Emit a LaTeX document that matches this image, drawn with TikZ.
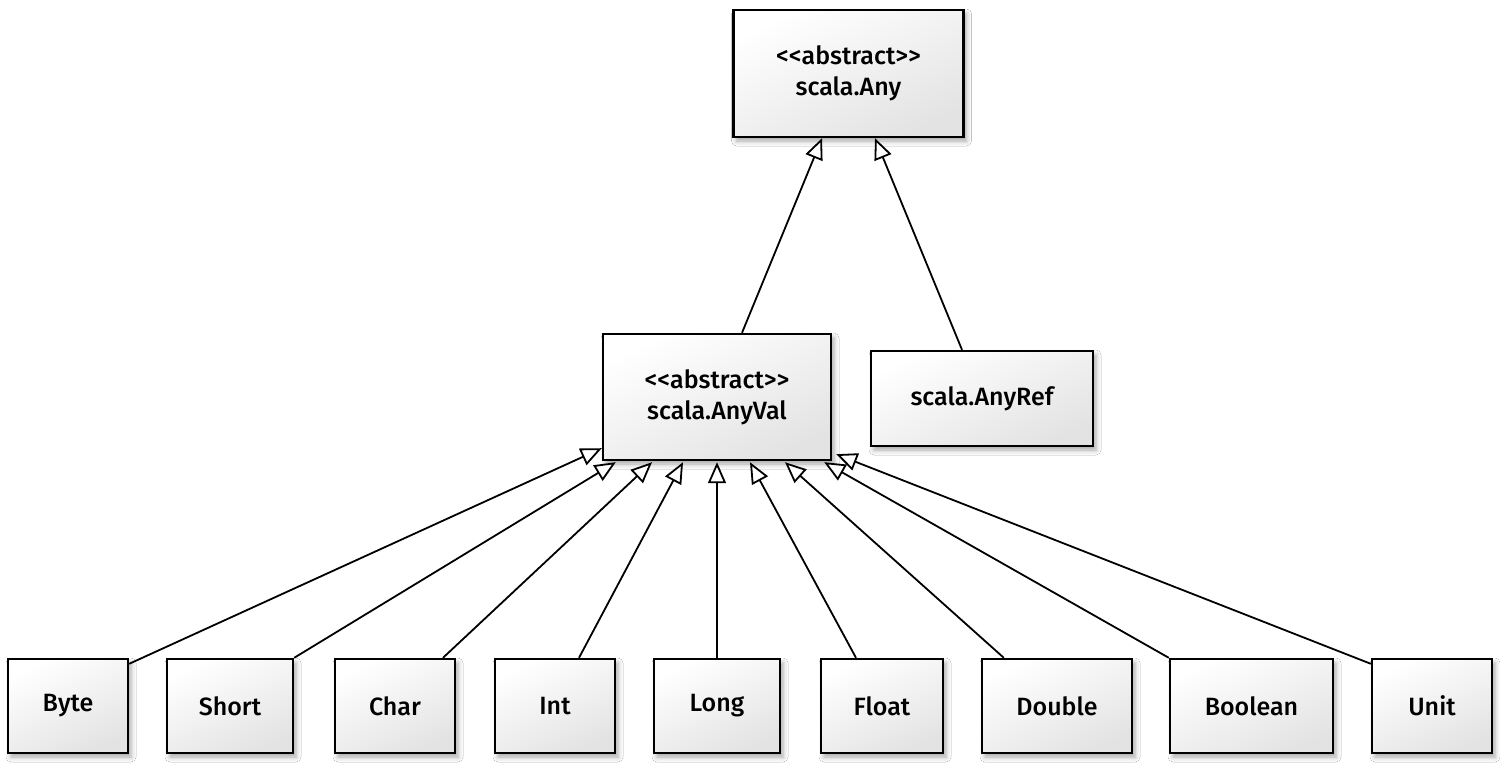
\documentclass[tikz,border=0pt]{standalone}
\usepackage{fontspec}
\setmainfont{Fira Sans}[UprightFont={* Medium}, Ligatures=NoCommon]
\usetikzlibrary{arrows.meta,shadows.blur,calc}
\begin{document}
\begin{tikzpicture}[x=1pt,y=-1pt,
  cls/.style={draw=black, line width=2.4pt, rectangle, inner sep=0pt,
    shading=axis, top color=white, bottom color=black!11, shading angle=25,
    blur shadow={shadow xshift=3pt, shadow yshift=-4pt, shadow blur radius=5pt, shadow opacity=35},
    font=\fontsize{25}{31}\selectfont, align=center},
  leaf/.style={cls, minimum height=94pt},
  inh/.style={draw=black, line width=1.8pt, -{Triangle[open, fill=white, length=21pt, width=18pt, line width=1.8pt]}}
]
\useasboundingbox (0,0) rectangle (1500,763);
\fill[white] (0,0) rectangle (1500,763);

\node[cls, minimum width=230pt, minimum height=127pt] (any) at (848.5,73.5) {<{}<abstract>{}>\\scala.Any};
\node[cls, minimum width=228pt, minimum height=126pt] (anyval) at (717,397) {<{}<abstract>{}>\\scala.AnyVal};
\node[cls, minimum width=222pt, minimum height=95pt] (anyref) at (982,398.5) {scala.AnyRef};

\node[leaf, minimum width=120pt] (byte) at (68,706) {Byte};
\node[leaf, minimum width=126pt] (short) at (230,706) {Short};
\node[leaf, minimum width=120pt] (char) at (395,706) {Char};
\node[leaf, minimum width=120pt] (int) at (555,706) {Int};
\node[leaf, minimum width=126pt] (long) at (717,706) {Long};
\node[leaf, minimum width=122pt] (float) at (882,706) {Float};
\node[leaf, minimum width=150pt] (double) at (1057,706) {Double};
\node[leaf, minimum width=163pt] (boolean) at (1251.5,706) {Boolean};
\node[leaf, minimum width=120pt] (unit) at (1432,706) {Unit};

\draw[inh] ([xshift=25pt]anyval.north) -- ([xshift=-26.5pt]any.south);
\draw[inh] ([xshift=-20pt]anyref.north) -- ([xshift=26.5pt]any.south);

\draw[inh] ([yshift=-6pt]byte.north east) -- ([yshift=13pt]anyval.south west);
\draw[inh] (short.north east) -- ([xshift=14pt,yshift=-1pt]anyval.south west);
\draw[inh] ([xshift=48pt]char.north) -- ([xshift=-65pt,yshift=-1pt]anyval.south);
\draw[inh] ([xshift=24pt]int.north) -- ([xshift=-34pt,yshift=-1pt]anyval.south);
\draw[inh] (long.north) -- ([yshift=-1pt]anyval.south);
\draw[inh] ([xshift=-26pt]float.north) -- ([xshift=33pt,yshift=-1pt]anyval.south);
\draw[inh] ([xshift=23pt]double.north west) -- ([xshift=68pt,yshift=-1pt]anyval.south);
\draw[inh] (boolean.north west) -- ([xshift=-8pt,yshift=-1pt]anyval.south east);
\draw[inh] ([yshift=-6pt]unit.north west) -- ([xshift=4pt,yshift=7pt]anyval.south east);
\end{tikzpicture}
\end{document}
